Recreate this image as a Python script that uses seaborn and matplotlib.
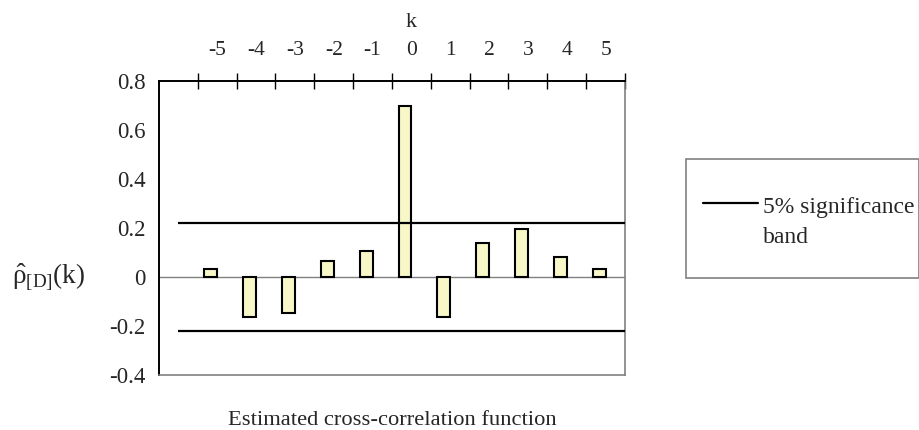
import numpy as np
import pandas as pd
import matplotlib
matplotlib.use("Agg")
import matplotlib.pyplot as plt
from matplotlib.lines import Line2D
from matplotlib.patches import Rectangle
import matplotlib.transforms as mtransforms
import seaborn as sns

# - - - data - - -
lags = [-5, -4, -3, -2, -1, 0, 1, 2, 3, 4, 5]
ccf = [0.034, -0.162, -0.146, 0.065, 0.106, 0.698, -0.162, 0.140, 0.195, 0.080, 0.034]
band = 0.22
y_ticks = [-0.4, -0.2, 0.0, 0.2, 0.4, 0.6, 0.8]
y_labels = ["-0.4", "-0.2", "0", "0.2", "0.4", "0.6", "0.8"]
legend_lines = ["5% significance", "band"]

sns.set_style("white")
plt.rcParams["font.family"] = ["Liberation Serif", "DejaVu Serif"]
plt.rcParams["mathtext.fontset"] = "custom"
plt.rcParams["mathtext.rm"] = "Liberation Serif"
plt.rcParams["mathtext.it"] = "Liberation Serif:italic"
plt.rcParams["axes.unicode_minus"] = False

# two series per category (second one empty), like the original spreadsheet chart
df = pd.DataFrame({
    "k": lags + lags,
    "value": ccf + [np.nan] * len(lags),
    "series": ["ccf"] * len(lags) + ["empty"] * len(lags),
})

fig = plt.figure(figsize=(9.2, 4.3), dpi=100)
ax = fig.add_axes([159 / 920, 1 - 375 / 430, 466 / 920, 294 / 430])

sns.barplot(data=df, x="k", y="value", hue="series", hue_order=["ccf", "empty"],
            palette=["#FFFFC0", "#FFFFC0"], native_scale=True, width=0.66,
            errorbar=None, edgecolor="black", linewidth=1.5, legend=False, ax=ax)

ax.axhline(0, color="#808080", lw=1, zorder=0)
ax.hlines([band, -band], -6, 5.5, color="black", lw=1.6, zorder=3)

ax.set_xlim(-6.5, 5.5)
ax.set_ylim(-0.4, 0.8)

# category axis on top
ax.xaxis.tick_top()
ax.set_xticks(lags)
ax.set_xticklabels([str(k) for k in lags], fontsize=15.5)
ax.set_xticks(np.arange(-5.5, 5.6, 1.0), minor=True)
ax.tick_params(axis="x", which="major", length=0, pad=15)
ax.tick_params(axis="x", which="minor", length=12, width=1, direction="inout", color="black")
ax.set_xlabel("")

ax.set_yticks(y_ticks)
ax.set_yticklabels(y_labels, fontsize=16.5)
ax.tick_params(axis="y", length=11, width=1, direction="inout", color="black", pad=4)
ax.set_ylabel("")

for side in ["top", "left"]:
    ax.spines[side].set_color("black")
    ax.spines[side].set_linewidth(1.4)
for side in ["right", "bottom"]:
    ax.spines[side].set_color("#808080")
    ax.spines[side].set_linewidth(1.2)

trans = mtransforms.blended_transform_factory(ax.transData, ax.transAxes)
ax.text(0, 1.184, "k", transform=trans, ha="center", va="baseline", fontsize=16)
ax.text(0.5, -0.17, "Estimated cross-correlation function", transform=ax.transAxes,
        ha="center", va="baseline", fontsize=16.2)
fig.text(85 / 920, 1 - 277 / 430, r"$\hat{\mathrm{\rho}}_{[\mathrm{D}]}(\mathrm{k})$",
         ha="right", va="center", fontsize=19.5)

# legend box
fig.add_artist(Rectangle((686 / 920, 1 - 278 / 430), 233 / 920, 119 / 430,
                         transform=fig.transFigure, fill=False, edgecolor="#808080", lw=1.2))
fig.add_artist(Line2D([703 / 920, 758 / 920], [1 - 203 / 430, 1 - 203 / 430],
                      transform=fig.transFigure, color="black", lw=1.6))
for i, line in enumerate(legend_lines):
    fig.text(763 / 920, 1 - (213 + 30 * i) / 430, line, ha="left", va="baseline", fontsize=17)

fig.savefig("out.png", dpi=100)
